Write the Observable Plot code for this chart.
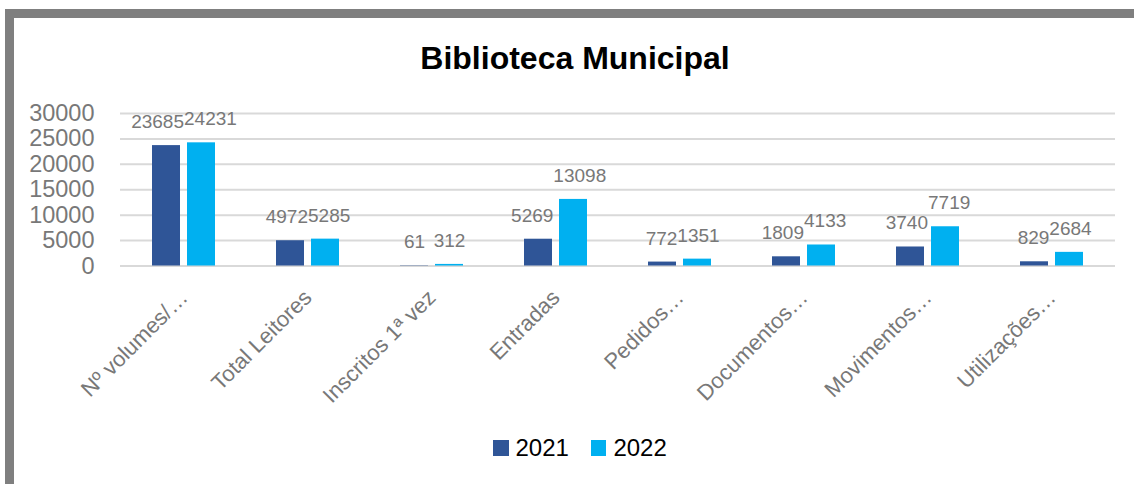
<!DOCTYPE html>
<html><head><meta charset="utf-8">
<script src="https://cdn.jsdelivr.net/npm/d3@7"></script>
<script src="https://cdn.jsdelivr.net/npm/@observablehq/plot@0.6"></script>
<style>
html,body{margin:0;padding:0;background:#fff;}
#page{position:relative;width:1134px;height:484px;overflow:hidden;font-family:"Liberation Sans",Arial,sans-serif;background:#fff;}
#frame{position:absolute;left:5px;top:9px;width:1200px;height:600px;border:9px solid #7f7f7f;box-sizing:border-box;}
#title{position:absolute;left:0;width:1150px;top:42px;text-align:center;font-weight:bold;font-size:32px;line-height:32px;color:#000;}
#chart{position:absolute;left:0;top:0;}
#legend{position:absolute;left:493px;top:436px;display:flex;align-items:center;font-size:24px;line-height:24px;color:#000;}
.item{display:flex;align-items:center;margin-right:22px;}
.sw{width:15.5px;height:15.5px;margin-right:7px;}
</style></head>
<body>
<div id="page">
  <div id="frame"></div>
  <div id="title">Biblioteca Municipal</div>
  <div id="chart"></div>
  <div id="legend"></div>
</div>
<script>
const categories = ["Nº volumes/…", "Total Leitores", "Inscritos 1ª vez", "Entradas", "Pedidos…", "Documentos…", "Movimentos…", "Utilizações…"];
const years = ["2021", "2022"];
const values2021 = [23685, 4972, 61, 5269, 772, 1809, 3740, 829];
const values2022 = [24231, 5285, 312, 13098, 1351, 4133, 7719, 2684];
const yTicks = [0, 5000, 10000, 15000, 20000, 25000, 30000];
const colors = ["#2f5597", "#00b0f0"];
const gray = "#787878";

const rows2021 = categories.map((c, i) => ({cat: c, year: years[0], value: values2021[i]}));
const rows2022 = categories.map((c, i) => ({cat: c, year: years[1], value: values2022[i]}));

const chart = Plot.plot({
  width: 1134,
  height: 420,
  marginLeft: 120,
  marginRight: 19,
  marginTop: 113,
  marginBottom: 154.5,
  style: {fontFamily: "'Liberation Sans', Arial, sans-serif", background: "transparent"},
  x: {domain: categories, paddingInner: 0.494, paddingOuter: 0.247, axis: null},
  y: {domain: [0, 30000], axis: null},
  marks: [
    Plot.ruleY(yTicks, {stroke: "#d9d9d9", strokeWidth: 2}),
    Plot.barY(rows2021, {x: "cat", y: "value", fill: colors[0], insetRight: 35}),
    Plot.barY(rows2022, {x: "cat", y: "value", fill: colors[1], insetLeft: 35}),
    Plot.text(rows2021, {x: "cat", y: "value", text: d => String(d.value), dx: -17.5, dy: -17.5, lineAnchor: "bottom", fontSize: 19, fill: gray, ariaLabel: "labels2021"}),
    Plot.text(rows2022, {x: "cat", y: "value", text: d => String(d.value), dx: 17.5, dy: -17.5, lineAnchor: "bottom", fontSize: 19, fill: gray, ariaLabel: "labels2022"}),
    Plot.axisY({ticks: yTicks, tickSize: 0, tickPadding: 26, fontSize: 23.5, fill: gray, label: null, tickFormat: d => String(d)}),
    Plot.text(categories, {x: d => d, frameAnchor: "bottom", rotate: -45, textAnchor: "end", lineAnchor: "middle", dx: 0, dy: 28, fontSize: 22, fill: gray})
  ]
});
document.getElementById("chart").appendChild(chart);

// push apart value labels that collide within a group
const groups = chart.querySelectorAll('g[aria-label="text"]');
if (groups.length >= 2) {
  const a = groups[0].querySelectorAll("text");
  const b = groups[1].querySelectorAll("text");
  for (let i = 0; i < Math.min(a.length, b.length); i++) {
    const ra = a[i].getBoundingClientRect();
    const rb = b[i].getBoundingClientRect();
    const overlap = ra.right - rb.left;
    if (overlap > 0) {
      const s = overlap / 2;
      for (const [t, k] of [[a[i], -s], [b[i], s]]) {
        const cur = t.getAttribute("transform") || "";
        t.setAttribute("transform", `translate(${k},0) ${cur}`);
      }
    }
  }
}

const legend = d3.select("#legend");
years.forEach((y, i) => {
  const it = legend.append("div").attr("class", "item");
  it.append("div").attr("class", "sw").style("background", colors[i]);
  it.append("span").text(y);
});
</script>
</body></html>
